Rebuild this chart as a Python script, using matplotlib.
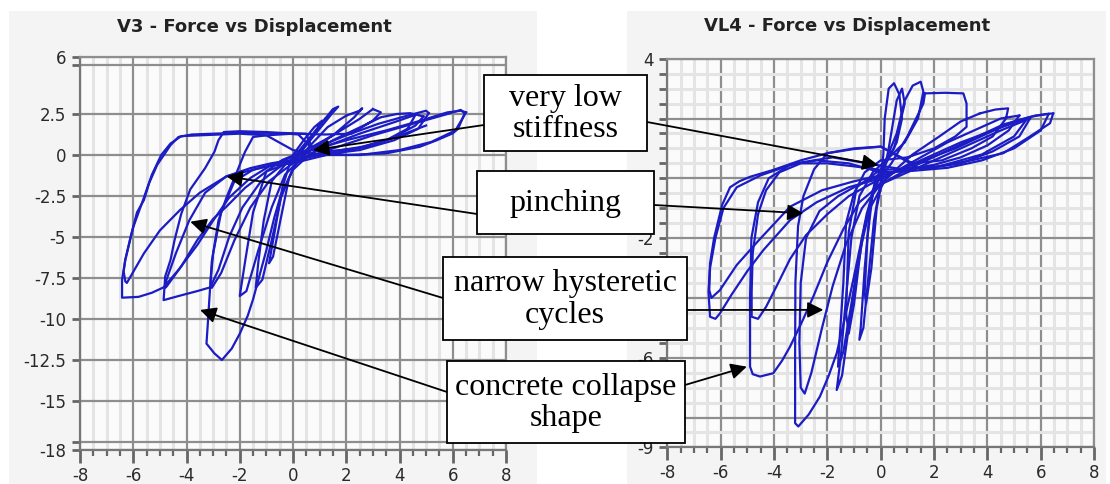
import matplotlib
matplotlib.use("Agg")
import matplotlib.pyplot as plt
from matplotlib.patches import Rectangle
import numpy as np

plt.rcParams["axes.unicode_minus"] = False

# ---- hysteresis loops: (displacement, force) ----
V3_CYCLES = [
    [(0.0, 0.0), (0.4, 0.9), (0.8, 1.7), (1.1, 2.1), (0.9, 1.6), (0.4, 0.6), (-0.1, -0.4), (-0.4, -2.0),
     (-0.7, -4.8), (-0.9, -6.6), (-0.75, -6.2), (-0.45, -3.8), (-0.15, -1.4), (0.3, 0.2), (0.8, 1.3), (1.2, 2.2)],
    [(1.2, 2.2), (1.5, 2.8), (1.7, 2.95), (1.45, 2.5), (0.9, 1.4), (0.3, 0.2), (-0.3, -0.6), (-0.8, -1.6),
     (-1.1, -4.0), (-1.3, -6.5), (-1.4, -8.1), (-1.15, -7.6), (-0.8, -5.2), (-0.45, -2.6), (0.0, -0.8),
     (0.6, 0.5), (1.3, 1.7), (2.0, 2.4)],
    [(2.0, 2.4), (2.5, 2.7), (2.6, 2.85), (2.3, 2.3), (1.5, 1.2), (0.5, 0.3), (-0.4, -0.3), (-1.0, -1.0),
     (-1.5, -3.5), (-1.8, -6.5), (-2.0, -8.6), (-1.75, -8.3), (-1.3, -5.8), (-0.8, -3.2), (-0.3, -1.2),
     (0.5, 0.1), (1.5, 1.2), (2.5, 2.2), (3.0, 2.8)],
    [(3.0, 2.8), (3.3, 2.6), (3.0, 2.1), (2.2, 1.3), (1.2, 1.25), (0.0, 1.3), (-1.0, 1.2), (-1.5, 1.1),
     (-1.8, 0.2), (-2.1, -1.0), (-2.5, -2.6), (-2.8, -4.0), (-3.05, -6.5), (-3.15, -9.0), (-3.2, -10.3),
     (-3.25, -11.5), (-2.95, -12.1), (-2.67, -12.5), (-2.3, -11.8), (-2.0, -10.9), (-1.7, -9.8),
     (-1.5, -8.8), (-1.2, -7.0), (-1.0, -5.8), (-0.7, -3.8), (-0.45, -2.4), (0.0, -0.9), (0.6, 0.0),
     (1.5, 0.9), (2.4, 1.6), (3.3, 2.3), (3.9, 2.5), (4.4, 2.55), (4.9, 2.35)],
    [(4.9, 2.35), (4.6, 1.8), (3.7, 1.0), (2.6, 0.5), (1.4, 0.2), (0.4, -0.2), (-0.5, -0.5), (-1.5, -0.9),
     (-2.2, -1.6), (-2.7, -3.5), (-3.0, -6.0), (-3.1, -7.8), (-3.05, -8.1), (-2.7, -7.2), (-2.2, -5.2),
     (-1.6, -3.2), (-0.9, -1.6), (0.0, -0.5), (1.2, 0.5), (2.5, 1.3), (3.8, 2.0), (4.6, 2.45), (4.3, 1.6)],
    [(4.3, 1.6), (3.5, 0.9), (2.4, 0.4), (1.2, 0.2), (0.6, 0.6), (0.2, 1.25), (-1.0, 1.4), (-2.0, 1.45),
     (-2.6, 1.4), (-2.8, 0.9), (-2.95, 0.2), (-3.3, -0.8), (-3.86, -2.1), (-4.2, -3.6), (-4.45, -5.2),
     (-4.6, -6.4), (-4.8, -7.4), (-4.86, -8.85), (-4.3, -8.6), (-3.6, -8.3), (-3.11, -8.07), (-2.8, -7.0),
     (-2.4, -5.0), (-1.9, -3.2), (-1.2, -1.6), (-0.4, -0.6), (0.8, 0.4), (2.0, 1.2), (3.2, 1.9), (4.3, 2.4),
     (5.0, 2.7), (5.1, 2.55)],
    [(5.1, 2.55), (4.7, 1.6), (3.8, 0.9), (2.5, 0.3), (1.0, 0.0), (0.0, -0.3), (-0.8, -0.5), (-1.6, -0.8),
     (-2.5, -1.3), (-3.3, -2.3), (-3.9, -4.0), (-4.4, -6.0), (-4.75, -7.6), (-4.8, -8.1), (-4.74, -8.0),
     (-4.2, -6.8), (-3.6, -5.2), (-3.0, -3.9), (-2.5, -3.15), (-1.8, -2.0), (-1.0, -1.0), (0.0, -0.4),
     (1.5, 0.4), (3.0, 1.2), (4.5, 1.9), (5.8, 2.5), (6.3, 2.75), (6.45, 2.54)],
    [(6.45, 2.54), (6.2, 1.6), (6.0, 1.32), (5.4, 0.9), (4.76, 0.5), (3.5, 0.1), (2.0, 0.0), (0.75, 0.3),
     (0.5, 1.3), (-0.5, 1.35), (-2.0, 1.35), (-3.0, 1.3), (-3.8, 1.25), (-4.3, 1.1), (-4.6, 0.6),
     (-4.85, 0.0), (-5.1, -0.6), (-5.4, -1.7), (-5.6, -2.75), (-5.86, -3.5), (-6.1, -5.0), (-6.3, -6.4),
     (-6.42, -7.6), (-6.42, -8.7), (-5.8, -8.65), (-5.3, -8.4), (-4.86, -8.07), (-4.3, -7.0), (-3.6, -5.5),
     (-3.0, -4.0), (-2.4, -2.6), (-1.6, -1.4), (-0.8, -0.6), (0.5, 0.2), (2.0, 0.9), (3.5, 1.5), (4.8, 2.1),
     (5.8, 2.6), (6.3, 2.7), (6.5, 2.6)],
    [(6.5, 2.6), (6.1, 1.5), (5.2, 0.8), (4.0, 0.3), (2.5, 0.0), (1.0, 0.0), (0.0, 0.3), (-1.0, 1.2),
     (-2.0, 1.3), (-3.5, 1.2), (-4.2, 1.15), (-4.6, 0.7), (-4.95, 0.0), (-5.3, -1.2), (-5.6, -2.6),
     (-6.0, -4.4), (-6.3, -6.4), (-6.36, -7.1), (-6.3, -7.7), (-6.24, -7.8), (-5.6, -6.0), (-5.0, -4.6),
     (-4.24, -3.35), (-3.5, -2.3), (-2.5, -1.3), (-1.0, -0.7), (0.0, -0.5), (1.5, 0.1), (3.0, 0.6),
     (4.2, 1.3), (5.0, 1.8)],
]

VL4_CYCLES = [
    [(0.0, 0.0), (0.1, 0.8), (0.15, 2.0), (0.3, 3.0), (0.5, 3.18), (0.7, 2.8), (0.8, 2.0), (0.6, 1.2),
     (0.2, 0.5), (-0.2, 0.0), (-0.4, -1.0), (-0.6, -3.0), (-0.75, -5.0), (-0.8, -5.4), (-0.65, -5.0),
     (-0.45, -3.2), (-0.25, -1.4), (0.1, 0.4)],
    [(0.1, 0.4), (0.6, 1.5), (0.9, 2.6), (1.2, 3.1), (1.5, 3.23), (1.6, 2.9), (1.4, 2.0), (0.9, 1.2),
     (0.2, 0.6), (-0.3, 0.2), (-0.8, -0.6), (-1.1, -2.0), (-1.3, -4.0), (-1.5, -6.0), (-1.65, -7.08),
     (-1.45, -6.6), (-1.2, -5.0), (-0.9, -3.2), (-0.6, -1.6), (-0.2, -0.2), (0.4, 0.5), (1.0, 1.4),
     (1.6, 2.5), (1.66, 2.84)],
    [(1.66, 2.84), (2.4, 2.86), (3.1, 2.84), (3.22, 2.5), (3.22, 1.72), (2.8, 1.4), (2.0, 1.0), (1.0, 0.7),
     (0.0, 0.6), (-0.6, 0.2), (-1.0, -0.5), (-1.3, -1.5), (-1.4, -3.5), (-1.55, -5.5), (-1.6, -6.3),
     (-1.4, -5.8), (-1.1, -4.2), (-0.8, -2.5), (-0.4, -1.0), (0.2, 0.0), (1.2, 0.8), (2.2, 1.4),
     (3.0, 1.9), (3.72, 2.17)],
    [(3.72, 2.17), (4.3, 2.3), (4.78, 2.34), (4.7, 2.0), (4.2, 1.4), (3.4, 1.0), (2.3, 0.6), (1.2, 0.5),
     (0.0, 1.06), (-1.0, 1.0), (-2.0, 0.84), (-2.5, 0.3), (-2.9, -0.6), (-3.1, -1.6), (-3.2, -3.5),
     (-3.21, -6.0), (-3.21, -8.19), (-3.09, -8.3), (-2.7, -7.9), (-2.28, -7.3), (-1.95, -6.6),
     (-1.65, -5.85), (-1.3, -4.5), (-1.03, -3.4), (-0.75, -2.2), (-0.52, -1.17), (-0.2, -0.3), (0.5, 0.2),
     (1.5, 0.7), (2.5, 1.2), (3.5, 1.6), (4.5, 2.0), (5.2, 2.1)],
    [(5.2, 2.1), (4.8, 1.6), (4.0, 1.1), (3.0, 0.7), (2.0, 0.45), (1.0, 0.3), (0.0, 0.1), (-0.8, -0.2),
     (-1.6, -0.6), (-2.3, -1.1), (-2.8, -2.0), (-3.0, -3.5), (-3.05, -5.5), (-3.0, -7.0), (-2.85, -7.2),
     (-2.6, -6.5), (-2.2, -5.0), (-1.8, -3.6), (-1.3, -2.2), (-0.7, -1.0), (0.0, -0.2), (1.0, 0.3),
     (2.2, 0.8), (3.4, 1.3), (4.6, 1.8), (5.6, 2.05), (6.2, 2.15), (6.47, 2.17)],
    [(6.47, 2.17), (6.35, 1.84), (5.6, 1.4), (4.6, 0.84), (3.4, 0.6), (2.1, 0.39), (1.0, 0.32), (0.0, 0.28),
     (-1.0, 0.4), (-2.0, 0.5), (-3.0, 0.5), (-3.8, 0.2), (-4.3, -0.4), (-4.6, -1.2), (-4.8, -2.5),
     (-4.84, -3.8), (-4.84, -4.63), (-4.6, -4.7), (-4.3, -4.3), (-3.9, -3.6), (-3.4, -2.7), (-2.8, -1.9),
     (-2.0, -1.2), (-1.2, -0.6), (-0.4, -0.2), (0.5, 0.2), (1.6, 0.6), (2.8, 1.0), (4.0, 1.5), (5.0, 1.9),
     (5.8, 2.1), (6.3, 2.15)],
    [(6.3, 2.15), (6.0, 1.6), (5.0, 1.0), (3.8, 0.6), (2.5, 0.35), (1.2, 0.25), (0.0, 0.2), (-1.2, 0.5),
     (-2.4, 0.6), (-3.4, 0.45), (-4.2, 0.0), (-4.6, -0.8), (-4.85, -2.0), (-4.9, -4.0), (-4.9, -6.3),
     (-4.8, -6.55), (-4.53, -6.63), (-4.03, -6.52), (-3.7, -6.1), (-3.4, -5.63), (-2.9, -4.7),
     (-2.53, -3.96), (-2.0, -2.8), (-1.4, -1.7), (-0.8, -0.8), (0.0, -0.2), (1.5, 0.4), (3.0, 1.0),
     (4.5, 1.6), (5.6, 2.0)],
    [(5.6, 2.0), (5.2, 1.4), (4.2, 0.9), (3.0, 0.5), (1.5, 0.3), (0.0, 1.06), (-1.0, 0.98), (-2.0, 0.84),
     (-3.0, 0.6), (-4.03, 0.28), (-4.9, 0.05), (-5.3, -0.1), (-5.65, -0.3), (-5.95, -0.9), (-6.25, -2.0),
     (-6.4, -2.84), (-6.46, -3.8), (-6.4, -4.63), (-6.2, -4.7), (-6.03, -4.52), (-5.6, -3.9), (-5.0, -3.1),
     (-4.4, -2.4), (-3.4, -1.4), (-2.4, -0.8), (-1.2, -0.3), (0.0, 0.0), (1.5, 0.6), (3.0, 1.2),
     (4.5, 1.7), (5.5, 2.0)],
    [(5.5, 2.0), (5.0, 1.4), (3.8, 0.8), (2.2, 0.4), (0.8, 0.3), (-0.5, 0.5), (-1.8, 0.7), (-3.2, 0.5),
     (-4.5, 0.1), (-5.4, -0.3), (-5.9, -1.0), (-6.2, -2.0), (-6.4, -3.0), (-6.43, -3.74), (-6.35, -4.0),
     (-6.03, -3.74), (-5.4, -2.9), (-4.6, -2.1), (-3.4, -0.95), (-2.2, -0.4), (-1.0, -0.1), (0.0, 0.1)],
    [(0.0, 0.1), (-0.3, -0.5), (-0.5, -2.0), (-0.6, -3.8), (-0.55, -4.2), (-0.35, -3.0), (-0.15, -1.0),
     (0.3, 1.0), (0.6, 2.6), (0.8, 3.0), (0.9, 2.5), (0.5, 1.0), (0.0, 0.3), (-0.9, -0.3), (-1.2, -1.8),
     (-1.3, -4.5), (-1.2, -5.2), (-1.0, -4.2), (-0.7, -2.0), (-0.3, -0.4), (0.1, 0.3)],
]

# axis ticks (labels hidden behind the boxes in the source are left blank)
X_TICKS = [-8, -6, -4, -2, 0, 2, 4, 6, 8]
V3_YTICKS = [6, 5.5, 2.5, 0, -2.5, -5, -7.5, -10, -12.5, -15, -17.5, -18]
V3_YLABELS = ["6", "", "2.5", "0", "-2.5", "-5", "-7.5", "-10", "-12.5", "-15", "", "-18"]
VL4_YTICKS = [4, 2, 0, -2, -4, -6, -8, -9]
VL4_YLABELS = ["4", "", "", "-2", "", "-6", "", "-9"]

TITLES = ["V3 - Force vs Displacement", "VL4 - Force vs Displacement"]

# annotation boxes: text, box (x0, y0, x1, y1) in image pixels, arrow starts and targets
NOTES = [
    ("very low\nstiffness", (484, 75, 647, 151), (484, 125), (0.76, 0.3), (647, 122), (-0.09, 0.44)),
    ("pinching", (477, 171, 654, 234), (477, 214), (-2.5, -1.3), (654, 205), (-2.9, -1.17)),
    ("narrow hysteretic\ncycles", (443, 257, 687, 340), (443, 298), (-3.86, -4.07), (687, 310), (-2.15, -4.4)),
    ("concrete collapse\nshape", (447, 361, 685, 443), (447, 392), (-3.49, -9.45), (685, 385), (-5.02, -6.3)),
]

W, H = 1110, 484
LINE = "#1c1cc4"
MAJOR = "#8e8e8e"
MINOR = "#e4e4e4"

fig = plt.figure(figsize=(W / 100, H / 100), dpi=100)


def frac_rect(x0, y0, x1, y1):
    # image pixel box (top-left origin) -> figure fraction rect
    return [x0 / W, 1 - y1 / H, (x1 - x0) / W, (y1 - y0) / H]


# light panel backgrounds
for x0, x1 in [(9, 537), (627, 1106)]:
    r = frac_rect(x0, 11, x1, 484)
    fig.add_artist(Rectangle((r[0], r[1]), r[2], r[3], transform=fig.transFigure,
                             facecolor="#f4f4f4", edgecolor="none", zorder=-5))

fig.text(254 / W, 1 - 27 / H, TITLES[0], ha="center", va="center", fontsize=13,
         fontweight="bold", color="#222222")
fig.text(847 / W, 1 - 26 / H, TITLES[1], ha="center", va="center", fontsize=13,
         fontweight="bold", color="#222222")

ax1 = fig.add_axes(frac_rect(80, 56.6, 506, 450.2))
ax2 = fig.add_axes(frac_rect(667.4, 58.7, 1094, 447.4))


def style_axes(ax, ylim, yticks, ylabels, yminor=None):
    ax.set_facecolor("#fbfbfb")
    ax.set_xlim(-8, 8)
    ax.set_ylim(*ylim)
    ax.set_xticks(X_TICKS)
    ax.set_xticks(np.arange(-8, 8.01, 0.5), minor=True)
    ax.set_yticks(yticks)
    ax.set_yticklabels(ylabels)
    if yminor is not None:
        ax.set_yticks(yminor, minor=True)
        ax.grid(True, which="minor", color=MINOR, lw=2.2, zorder=0)
    else:
        ax.grid(True, which="minor", axis="x", color=MINOR, lw=2.2, zorder=0)
    ax.grid(True, which="major", color=MAJOR, lw=1.6, zorder=1)
    ax.set_axisbelow(True)
    for s in ax.spines.values():
        s.set_color(MAJOR)
        s.set_linewidth(1.6)
    ax.spines["left"].set_color("#777777")
    ax.spines["bottom"].set_color("#777777")
    ax.tick_params(axis="both", which="major", direction="out", length=6, width=2,
                   color="#666666", labelsize=12, labelcolor="#2a2a2a", pad=4)
    ax.tick_params(axis="x", which="major", length=9, pad=3)
    ax.tick_params(axis="x", which="minor", direction="out", length=4, width=1.6, color="#666666")
    ax.tick_params(axis="y", which="minor", direction="out", length=6, width=2, color="#666666")


style_axes(ax1, (-18, 6), V3_YTICKS, V3_YLABELS)
style_axes(ax2, (-9, 4), VL4_YTICKS, VL4_YLABELS, yminor=np.arange(-9, 4.01, 0.5))

for ax, cycles in [(ax1, V3_CYCLES), (ax2, VL4_CYCLES)]:
    for cyc in cycles:
        xs = [p[0] for p in cyc]
        ys = [p[1] for p in cyc]
        ax.plot(xs, ys, color=LINE, lw=1.6, zorder=3, solid_joinstyle="round")

arrow = dict(arrowstyle="-|>", color="black", lw=1.3, mutation_scale=24, shrinkA=0, shrinkB=0)

for text, box, start1, tip1, start2, tip2 in NOTES:
    x0, y0, x1, y1 = box
    r = frac_rect(x0, y0, x1, y1)
    fig.add_artist(Rectangle((r[0], r[1]), r[2], r[3], transform=fig.transFigure,
                             facecolor="white", edgecolor="black", lw=1.3, zorder=10))
    fig.text((x0 + x1) / 2 / W, 1 - ((y0 + y1) / 2 + 1) / H, text, ha="center", va="center",
             fontsize=23, family="Liberation Serif", linespacing=1.12, zorder=11)
    ax1.annotate("", xy=tip1, xycoords="data", xytext=(start1[0], H - start1[1]),
                 textcoords="figure pixels", arrowprops=arrow, annotation_clip=False, zorder=6)
    ax2.annotate("", xy=tip2, xycoords="data", xytext=(start2[0], H - start2[1]),
                 textcoords="figure pixels", arrowprops=arrow, annotation_clip=False, zorder=6)

fig.savefig("out.png", dpi=100)
